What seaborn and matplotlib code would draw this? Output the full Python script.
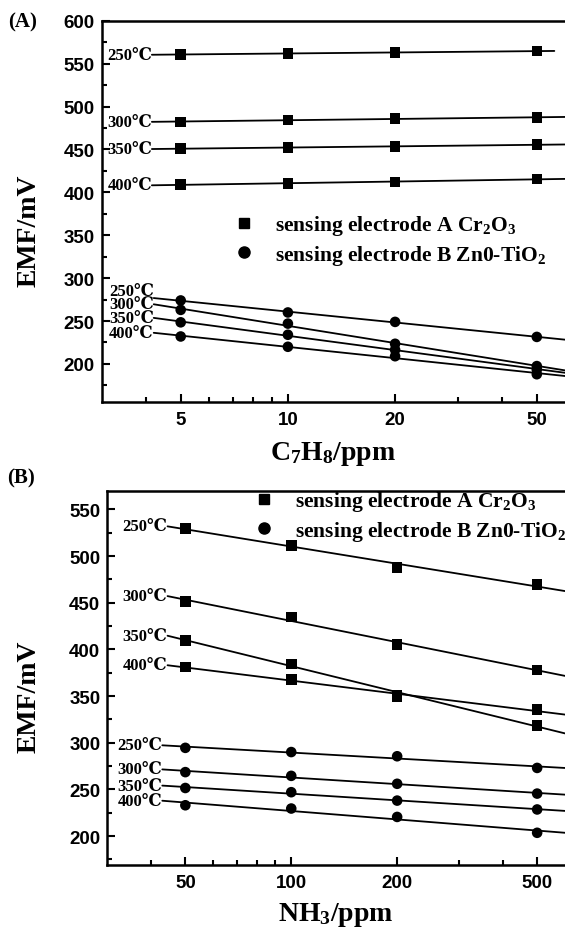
import numpy as np
import pandas as pd
import matplotlib
matplotlib.use("Agg")
import matplotlib.pyplot as plt
import seaborn as sns
from matplotlib.ticker import FixedLocator, NullFormatter, FuncFormatter, MultipleLocator
from matplotlib.lines import Line2D

# ---------------- data ----------------
temperatures = ["250℃", "300℃", "350℃", "400℃"]
electrodes = ["sensing electrode A Cr$_2$O$_3$", "sensing electrode B Zn0-TiO$_2$"]

# Panel A: C7H8
c7h8_ppm = [5, 10, 20, 50]
a_cr2o3_250 = [560.5, 562.0, 563.0, 564.5]
a_cr2o3_300 = [482.0, 484.5, 486.0, 487.0]
a_cr2o3_350 = [451.0, 452.0, 453.5, 455.5]
a_cr2o3_400 = [409.0, 410.5, 412.0, 415.5]
a_zno_250 = [274.0, 260.0, 249.0, 231.5]
a_zno_300 = [263.0, 247.0, 223.5, 197.5]
a_zno_350 = [248.5, 234.0, 216.5, 193.5]
a_zno_400 = [232.0, 220.0, 209.0, 188.0]

# Panel B: NH3
nh3_ppm = [50, 100, 200, 500]
b_cr2o3_250 = [529.5, 511.5, 487.5, 469.5]
b_cr2o3_300 = [451.5, 434.5, 405.0, 378.0]
b_cr2o3_350 = [409.5, 384.5, 351.0, 318.5]
b_cr2o3_400 = [381.0, 368.0, 349.0, 335.5]
b_zno_250 = [294.5, 290.0, 285.5, 273.0]
b_zno_300 = [268.5, 264.5, 256.0, 245.5]
b_zno_350 = [251.5, 247.0, 238.0, 228.5]
b_zno_400 = [233.0, 229.5, 220.5, 203.5]

xticks_A = [5, 10, 20, 50]
xticks_B = [50, 100, 200, 500]

# ---------------- style ----------------
sns.set_theme(style="ticks")
SERIF = ["Liberation Serif", "DejaVu Serif"]
SANS = ["Liberation Sans", "DejaVu Sans"]
plt.rcParams["font.family"] = SERIF
plt.rcParams["mathtext.fontset"] = "custom"
plt.rcParams["mathtext.rm"] = "Liberation Serif:bold"
plt.rcParams["mathtext.it"] = "Liberation Serif:bold"
plt.rcParams["mathtext.bf"] = "Liberation Serif:bold"

W, H = 565, 928
fig = plt.figure(figsize=(W / 100, H / 100), dpi=100)
fig.patch.set_facecolor("white")

axA = fig.add_axes([101.7 / W, 1 - 402.7 / H, (W - 101.7) / W, (402.7 - 21.7) / H])
axB = fig.add_axes([107.3 / W, 1 - 866.0 / H, (W - 107.3) / W, (866.0 - 491.7) / H])


def build_df(conc, cr_lists, zn_lists):
    rows = []
    for el, lists in zip(electrodes, [cr_lists, zn_lists]):
        for t, vals in zip(temperatures, lists):
            for c, v in zip(conc, vals):
                rows.append({"conc": c, "emf": v, "electrode": el, "temp": t})
    return pd.DataFrame(rows)


dfA = build_df(c7h8_ppm,
               [a_cr2o3_250, a_cr2o3_300, a_cr2o3_350, a_cr2o3_400],
               [a_zno_250, a_zno_300, a_zno_350, a_zno_400])
dfB = build_df(nh3_ppm,
               [b_cr2o3_250, b_cr2o3_300, b_cr2o3_350, b_cr2o3_400],
               [b_zno_250, b_zno_300, b_zno_350, b_zno_400])

markers = {electrodes[0]: "s", electrodes[1]: "o"}


def style_axes(ax, xlim, ylim, xmajor, xminor):
    ax.set_xscale("log")
    ax.set_xlim(*xlim)
    ax.set_ylim(*ylim)
    ax.xaxis.set_major_locator(FixedLocator(xmajor))
    ax.xaxis.set_major_formatter(FuncFormatter(lambda v, p: f"{v:g}"))
    ax.xaxis.set_minor_locator(FixedLocator(xminor))
    ax.xaxis.set_minor_formatter(NullFormatter())
    ax.yaxis.set_major_locator(MultipleLocator(50))
    ax.yaxis.set_minor_locator(MultipleLocator(25))
    ax.tick_params(which="both", direction="in", top=False, right=False, width=1.5, color="black")
    ax.tick_params(which="major", length=6)
    ax.tick_params(which="minor", length=3.5)
    ax.tick_params(axis="y", pad=5)
    ax.tick_params(axis="x", pad=6.5)
    for lab in ax.get_xticklabels() + ax.get_yticklabels():
        lab.set_fontfamily(SANS)
        lab.set_fontweight("bold")
        lab.set_fontsize(13.5)
        lab.set_color("black")
    for s in ["left", "bottom", "top"]:
        ax.spines[s].set_linewidth(1.8)
        ax.spines[s].set_color("black")
    ax.spines["right"].set_visible(False)
    ax.grid(False)
    ax.set_facecolor("white")


def draw_panel(ax, df, x_start, x_end, end_overrides, label_gap):
    sns.scatterplot(data=df, x="conc", y="emf", style="electrode", markers=markers,
                    color="black", s=58, linewidth=0, legend=False, ax=ax, zorder=3)
    for el in electrodes:
        x0 = x_start[el]
        label_y = []
        for t in temperatures:
            sub = df[(df.electrode == el) & (df.temp == t)]
            k, b = np.polyfit(np.log10(sub.conc), sub.emf, 1)
            x1 = end_overrides.get((el, t), x_end)
            xs = np.array([x0, x1])
            ax.plot(xs, k * np.log10(xs) + b, color="black", lw=1.3, zorder=2)
            label_y.append(k * np.log10(x0) + b)
        # keep the temperature labels from piling onto each other (push upward)
        for i in range(len(label_y) - 2, -1, -1):
            label_y[i] = max(label_y[i], label_y[i + 1] + label_gap)
        for t, y in zip(temperatures, label_y):
            ax.text(x0, y, t, ha="right", va="center",
                    fontsize=12, fontweight="bold", family=SERIF, color="black")


draw_panel(axA, dfA, {electrodes[0]: 4.15, electrodes[1]: 4.2}, 60,
           {(electrodes[0], "250℃"): 56}, 15.5)
draw_panel(axB, dfB, {electrodes[0]: 44.5, electrodes[1]: 43}, 600, {}, 15.0)

style_axes(axA, (3, 60), (156, 600), xticks_A, [4, 6, 7, 8, 9, 30, 40])
style_axes(axB, (30, 600), (169, 570), xticks_B, [40, 60, 70, 80, 90, 300, 400])

label_font = dict(fontsize=20, fontweight="bold", family=SERIF, color="black")
axA.set_xlabel("C$_7$H$_8$/ppm", **label_font)
axB.set_xlabel("NH$_3$/ppm", **label_font)
axA.xaxis.label.set_va("baseline")
axB.xaxis.label.set_va("baseline")
axA.xaxis.set_label_coords(0.5, (402.7 - 460) / 381.0)
axB.xaxis.set_label_coords(0.5, (866 - 921.5) / 374.3)
axA.set_ylabel("EMF/mV", **label_font)
axB.set_ylabel("EMF/mV", **label_font)
axA.yaxis.set_label_coords((42 - 101.7) / 463.3, (402.7 - 231) / 381.0)
axB.yaxis.set_label_coords((42 - 107.3) / 457.7, (866 - 697) / 374.3)

handles = [Line2D([], [], marker="s", ls="none", color="black", markersize=7.6),
           Line2D([], [], marker="o", ls="none", color="black", markersize=8.0)]
leg_prop = dict(family=SERIF, weight="bold", size=15.5)
for ax, anchor in [(axA, (233 / W, 1 - 241 / H)), (axB, (253 / W, 1 - 517 / H))]:
    lg = ax.legend(handles, electrodes, loc="center left", bbox_to_anchor=anchor,
                   bbox_transform=fig.transFigure, frameon=False, prop=leg_prop,
                   handlelength=1.0, handletextpad=0.94, labelspacing=0.25,
                   borderpad=0, borderaxespad=0)
    for txt in lg.get_texts():
        txt.set_color("black")

fig.text(8 / W, 1 - 22 / H, "(A)", ha="left", va="center", fontsize=15,
         fontweight="bold", family=SERIF, color="black")
fig.text(7 / W, 1 - 478 / H, "(B)", ha="left", va="center", fontsize=15,
         fontweight="bold", family=SERIF, color="black")

fig.savefig("out.png", dpi=100, facecolor="white")
